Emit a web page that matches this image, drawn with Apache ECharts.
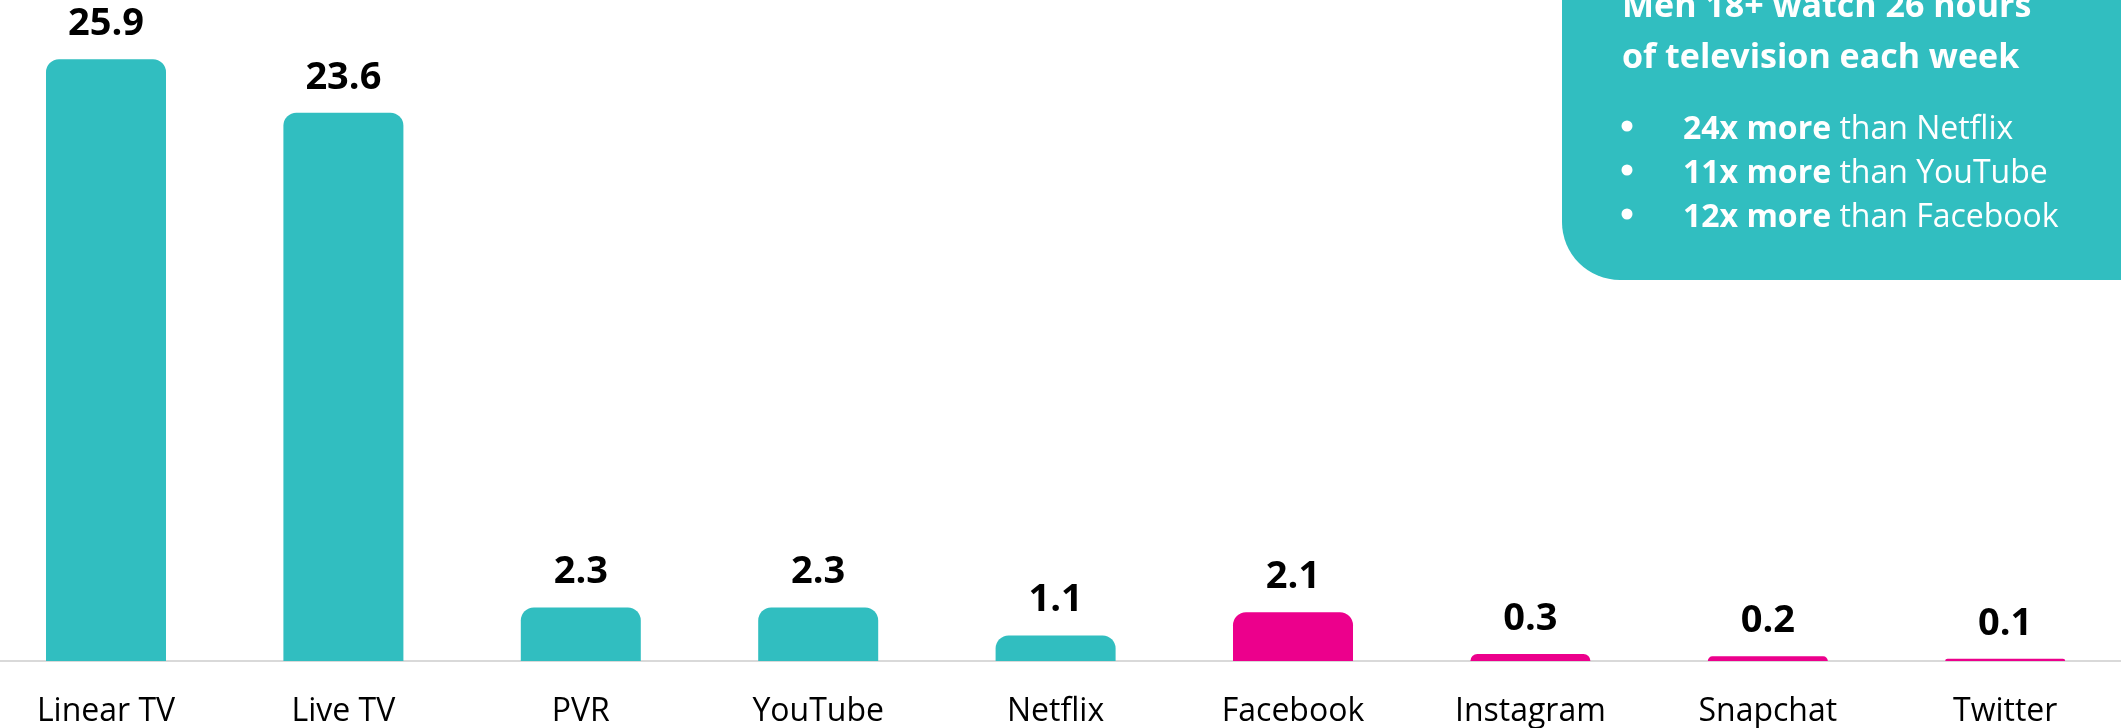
<!DOCTYPE html>
<html>
<head>
<meta charset="utf-8">
<style>
  html, body { margin: 0; padding: 0; background: #ffffff; }
  #chart { width: 2121px; height: 728px; }
</style>
<script src="https://cdn.jsdelivr.net/npm/echarts@6/dist/echarts.min.js"></script>
</head>
<body>
<div id="chart"></div>
<script>
// ---- data ----
const categories = ['Linear TV', 'Live TV', 'PVR', 'YouTube', 'Netflix', 'Facebook', 'Instagram', 'Snapchat', 'Twitter'];
const hoursPerWeek = [25.9, 23.6, 2.3, 2.3, 1.1, 2.1, 0.3, 0.2, 0.1];
const categoryGroup = ['Video', 'Video', 'Video', 'Video', 'Video', 'Social', 'Social', 'Social', 'Social'];
const calloutTitle = ['Men 18+ watch 26 hours', 'of television each week'];
const calloutBold = ['24x more', '11x more', '12x more'];
const calloutRest = [' than Netflix', ' than YouTube', ' than Facebook'];

// ---- styles ----
const TEAL = '#31BEC0';
const PINK = '#EC008C';
const groupColor = { Video: TEAL, Social: PINK };
const FONT = '"Open Sans", "Liberation Sans", sans-serif';

const chart = echarts.init(document.getElementById('chart'));

const barData = hoursPerWeek.map((v, i) => ({
  value: v,
  itemStyle: { color: groupColor[categoryGroup[i]] }
}));

const graphics = [
  {
    type: 'rect',
    shape: { x: 1562, y: -120, width: 700, height: 400, r: 58 },
    style: { fill: TEAL },
    z: 10
  }
];
const titleBaselines = [19, 70];
calloutTitle.forEach((t, i) => {
  graphics.push({
    type: 'text',
    x: 1622, y: titleBaselines[i] - 12,
    style: {
      text: t, fill: '#ffffff', font: 'bold 34px ' + FONT,
      textAlign: 'left', textVerticalAlign: 'middle', verticalAlign: 'middle'
    },
    z: 11
  });
});
const bulletMid = [126, 170, 214];
calloutBold.forEach((b, i) => {
  graphics.push({
    type: 'circle',
    shape: { cx: 1627, cy: bulletMid[i], r: 5.5 },
    style: { fill: '#ffffff' },
    z: 11
  });
  graphics.push({
    type: 'text',
    x: 1683, y: bulletMid[i] + 4,
    style: {
      text: '{b|' + b + '}{r|' + calloutRest[i] + '}',
      rich: {
        b: { fontFamily: FONT, fontSize: 32, fontWeight: 'bold', fill: '#ffffff', color: '#ffffff' },
        r: { fontFamily: FONT, fontSize: 32, fontWeight: 'normal', fill: '#ffffff', color: '#ffffff' }
      },
      textAlign: 'left', align: 'left', verticalAlign: 'middle', textVerticalAlign: 'middle'
    },
    z: 11
  });
});

chart.setOption({
  animation: false,
  backgroundColor: '#ffffff',
  grid: { left: -12.7, right: -2.9, top: 0, bottom: 67, containLabel: false, outerBoundsMode: 'none' },
  xAxis: {
    type: 'category',
    data: categories,
    axisTick: { show: false },
    axisLine: { show: true, lineStyle: { color: '#d9d9d9', width: 2 } },
    axisLabel: { color: '#000000', fontFamily: FONT, fontSize: 32, margin: 35, interval: 0 }
  },
  yAxis: {
    type: 'value',
    min: 0,
    max: 28.45,
    show: false,
    splitLine: { show: false }
  },
  series: [{
    type: 'bar',
    data: barData,
    barWidth: 120,
    itemStyle: { borderRadius: [13, 13, 0, 0] },
    label: {
      show: true,
      position: 'top',
      distance: 16,
      color: '#000000',
      fontFamily: FONT,
      fontWeight: 'bold',
      fontSize: 38,
      formatter: p => p.value.toFixed(1)
    }
  }],
  graphic: graphics
});
</script>
</body>
</html>
